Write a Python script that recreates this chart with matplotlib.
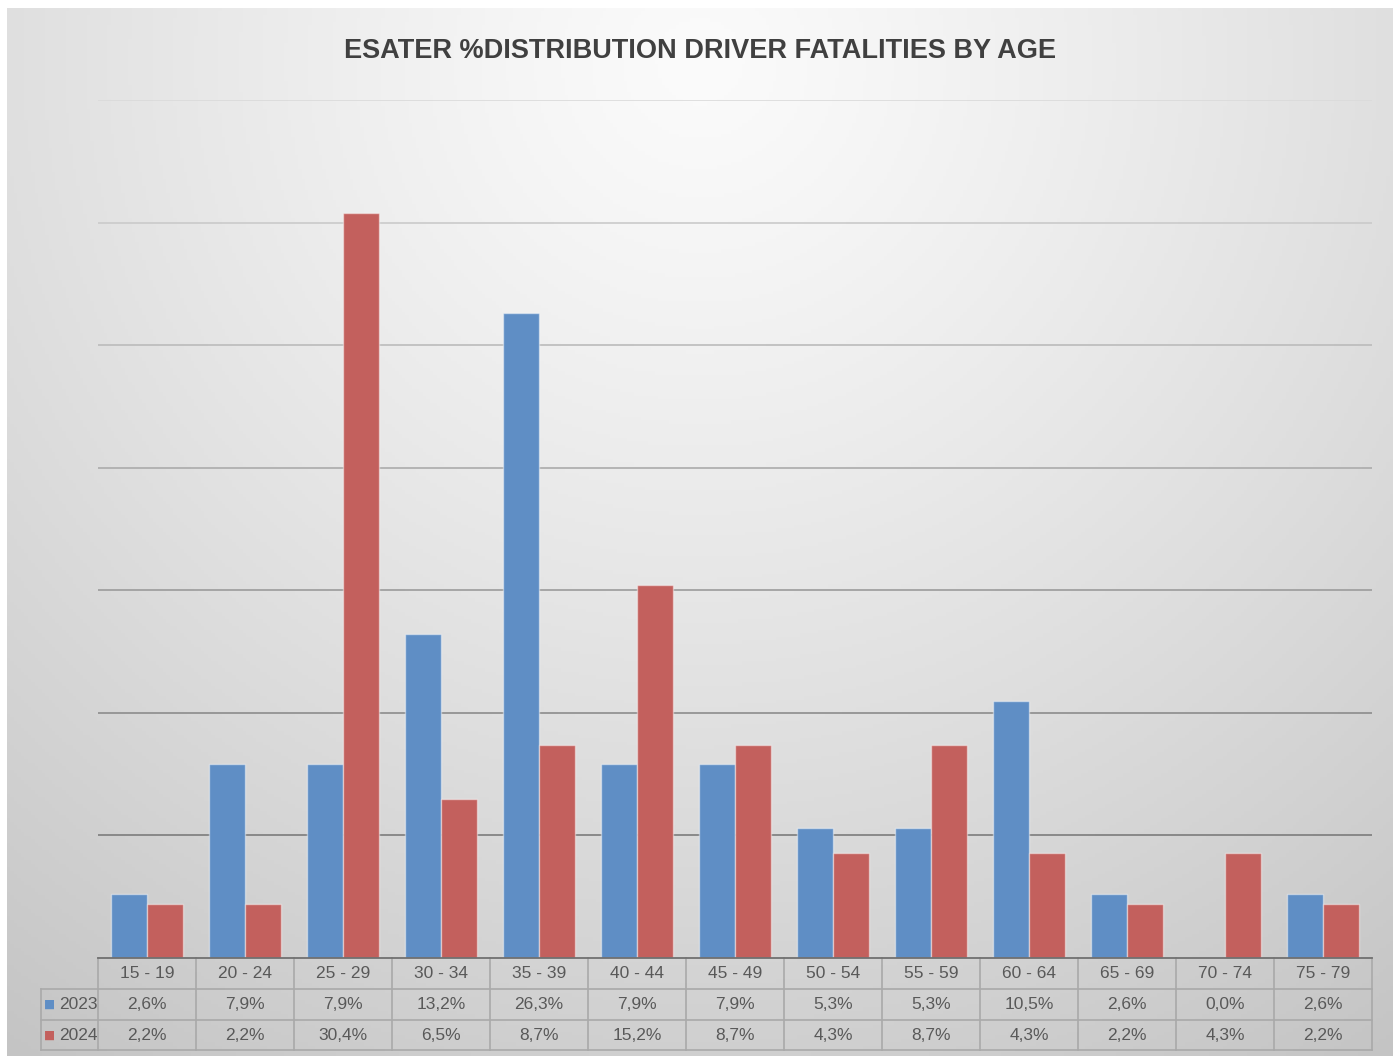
import numpy as np
import matplotlib

matplotlib.use("Agg")
import matplotlib.pyplot as plt
from matplotlib.colors import to_rgb
from matplotlib.transforms import blended_transform_factory

age_groups = ["15 - 19", "20 - 24", "25 - 29", "30 - 34", "35 - 39", "40 - 44", "45 - 49",
              "50 - 54", "55 - 59", "60 - 64", "65 - 69", "70 - 74", "75 - 79"]
years = ["2023", "2024"]
pct_2023 = [2.6, 7.9, 7.9, 13.2, 26.3, 7.9, 7.9, 5.3, 5.3, 10.5, 2.6, 0.0, 2.6]
pct_2024 = [2.2, 2.2, 30.4, 6.5, 8.7, 15.2, 8.7, 4.3, 8.7, 4.3, 2.2, 4.3, 2.2]
grid_levels = [5, 10, 15, 20, 25, 30, 35]

BLUE = "#5f8ec5"
RED = "#c3605d"
TEXT = "#595959"
TABLE_LINE = "#a9a9a9"

plt.rcParams["font.family"] = ["Liberation Sans", "DejaVu Sans"]

W, H = 1398, 1056
fig = plt.figure(figsize=(W / 100, H / 100), dpi=100)
fig.patch.set_facecolor("white")

# chart area background: radial grey gradient, light at the top centre
bg = fig.add_axes([7 / W, 0, (1393 - 7) / W, (H - 8) / H])
bg.set_axis_off()
gx, gy = np.meshgrid(np.linspace(0, 1, 400), np.linspace(0, 1, 300))
dist = np.sqrt(((gx - 0.5) * 1.3) ** 2 + (gy - 0.05) ** 2)
dist = np.clip(dist / dist.max(), 0, 1)
light, dark = np.array(to_rgb("#fbfbfb")), np.array(to_rgb("#c4c4c4"))
img = light[None, None, :] + (dark - light)[None, None, :] * (dist[..., None] ** 1.2)
bg.imshow(img, aspect="auto", extent=[0, 1, 1, 0])
bg.set_xlim(0, 1)
bg.set_ylim(1, 0)

ax = fig.add_axes([98 / W, (H - 958) / H, 1274 / W, 858 / H])
ax.set_facecolor("none")
x = np.arange(len(age_groups))
w = 0.37
ax.bar(x - w / 2, pct_2023, w, color=BLUE, edgecolor=(1, 1, 1, 0.45), linewidth=1.0, zorder=3)
ax.bar(x + w / 2, pct_2024, w, color=RED, edgecolor=(1, 1, 1, 0.45), linewidth=1.0, zorder=3)
ax.set_xlim(-0.5, len(age_groups) - 0.5)
ax.set_ylim(0, 35)

# gridlines get darker towards the bottom
top_c, bot_c = np.array(to_rgb("#dadada")), np.array(to_rgb("#7c7c7c"))
for lv in grid_levels:
    t = (35 - lv) / 30
    ax.axhline(lv, color=top_c + (bot_c - top_c) * t, linewidth=1.2, zorder=1)

for s in ax.spines.values():
    s.set_visible(False)
ax.set_xticks([])
ax.set_yticks([])

# data table below the plot
tr = blended_transform_factory(ax.transData, ax.transAxes)
row_h = 31 / 858
left = -0.5 - 57 / 98
right = len(age_groups) - 0.5
rows_y = [0, -row_h, -2 * row_h, -92 / 858]

ax.plot([-0.5, right], [0, 0], color="#707070", linewidth=1.3, transform=tr, clip_on=False, zorder=4)
for yy in rows_y[1:]:
    ax.plot([left, right], [yy, yy], color=TABLE_LINE, linewidth=1.2, transform=tr, clip_on=False)
for xb in np.arange(-0.5, right + 0.01, 1.0):
    ax.plot([xb, xb], [0, rows_y[-1]], color=TABLE_LINE, linewidth=1.2, transform=tr, clip_on=False)
ax.plot([left, left], [rows_y[1], rows_y[-1]], color=TABLE_LINE, linewidth=1.2, transform=tr, clip_on=False)

for i, lab in enumerate(age_groups):
    ax.text(i, -row_h / 2, lab, ha="center", va="center", fontsize=12.5, color=TEXT, transform=tr)
    for r, vals in enumerate([pct_2023, pct_2024]):
        ax.text(i, -(r + 1.5) * row_h, f"{vals[i]:.1f}%".replace(".", ","), ha="center", va="center",
                fontsize=12.5, color=TEXT, transform=tr)

for r, (yr, col) in enumerate(zip(years, [BLUE, RED])):
    yc = -(r + 1.5) * row_h
    ax.text(left + 0.03, yc, "■", ha="left", va="center", fontsize=8.5, color=col,
            family="DejaVu Sans", transform=tr)
    ax.text(left + 0.58, yc, yr, ha="right", va="center", fontsize=12.5, color=TEXT, transform=tr)

fig.text(700 / W, 1 - 51 / H, "ESATER %DISTRIBUTION DRIVER FATALITIES BY AGE", ha="center", va="center",
         fontsize=19.5, fontweight="bold", color="#404040")

fig.savefig("out.png", dpi=100)
